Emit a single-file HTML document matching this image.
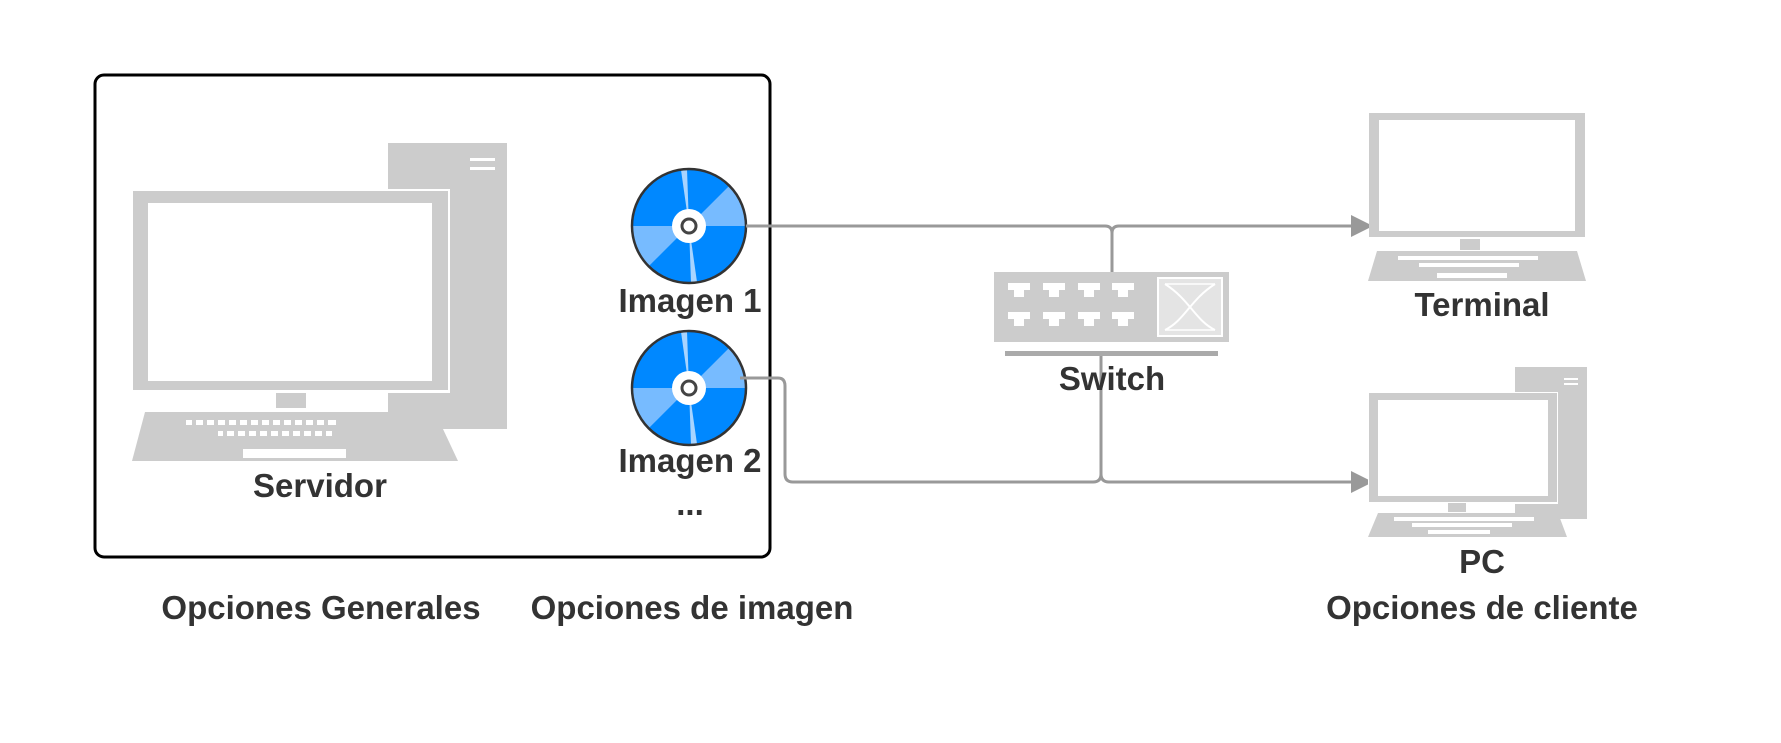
<!DOCTYPE html>
<html><head><meta charset="utf-8"><style>
html,body{margin:0;padding:0;background:#fff;}
svg{display:block;}
text{font-family:"Liberation Sans",Arial,sans-serif;font-weight:bold;fill:#333;text-anchor:middle;}
</style></head><body>
<svg width="1781" height="743" viewBox="0 0 1781 743" xmlns="http://www.w3.org/2000/svg">
<defs>
<g id="cd">
  <circle r="57" fill="#0088ff"/>
  <path d="M0 0 L57 0 A57 57 0 0 0 40.3 -40.3 Z" fill="#77bbff"/>
  <path d="M0 0 L-57 0 A57 57 0 0 0 -40.3 40.3 Z" fill="#77bbff"/>
  <path d="M0 0 L-8 -56 A57 57 0 0 1 -2 -57 Z" fill="#a8d4ff"/>
  <path d="M0 0 L8 56 A57 57 0 0 1 2 57 Z" fill="#a8d4ff"/>
  <circle r="57" fill="none" stroke="#333" stroke-width="2.5"/>
  <circle r="17" fill="#fff"/>
  <circle r="7" fill="none" stroke="#444" stroke-width="3"/>
</g>
</defs>
<rect x="95" y="75" width="675" height="482" rx="9" fill="none" stroke="#000" stroke-width="3"/>
<rect x="388" y="143" width="119" height="286" fill="#cccccc"/>
<rect x="470" y="158" width="25" height="3" fill="#fff"/>
<rect x="470" y="167" width="25" height="3" fill="#fff"/>
<rect x="131" y="189" width="319" height="204" fill="#fff"/>
<rect x="133" y="191" width="315" height="199" fill="#cccccc"/>
<rect x="148" y="203" width="284" height="178" fill="#fff"/>
<rect x="276" y="393" width="30" height="15" fill="#cccccc"/>
<polygon points="145,412 435,412 458,461 132,461" fill="#cccccc"/>
<g fill="#fff">
<rect x="186" y="420" width="150" height="5"/>
<rect x="218" y="431" width="114" height="5"/>
<rect x="243" y="449" width="103" height="9"/>
</g>
<g stroke="#cccccc" stroke-width="4">
<path d="M194 419v7M205 419v7M216 419v7M227 419v7M238 419v7M249 419v7M260 419v7M271 419v7M282 419v7M293 419v7M304 419v7M315 419v7M326 419v7"/>
<path d="M225 430v7M236 430v7M247 430v7M258 430v7M269 430v7M280 430v7M291 430v7M302 430v7M313 430v7M324 430v7"/>
</g>
<text x="320" y="497" font-size="33">Servidor</text>
<use href="#cd" x="689" y="226"/>
<use href="#cd" x="689" y="388"/>
<text x="690" y="312" font-size="33">Imagen 1</text>
<text x="690" y="472" font-size="33">Imagen 2</text>
<text x="690" y="515" font-size="33">...</text>
<g fill="none" stroke="#999" stroke-width="3">
<path d="M746 226 H1105 Q1112 226 1112 233 V272"/>
<path d="M1112 233 Q1112 226 1119 226 H1355"/>
<path d="M740 378 H778 Q785 378 785 386 V474 Q785 482 793 482 H1093 Q1101 482 1101 474 V353"/>
<path d="M1101 474 Q1101 482 1109 482 H1355"/>
</g>
<polygon points="1351,215 1373,226 1351,237" fill="#999"/>
<polygon points="1351,471 1373,482 1351,493" fill="#999"/>
<g transform="translate(-5,0)">
<rect x="999" y="272" width="235" height="70" fill="#cccccc"/>
<rect x="1163" y="278" width="64" height="58" fill="#e4e4e4" stroke="#fff" stroke-width="2"/>
<g stroke="#fff" stroke-width="2" fill="none">
<path d="M1170 284 C1195 300 1200 320 1220 330 M1220 284 C1195 300 1190 320 1170 330"/>
<path d="M1170 284 H1220 M1170 330 H1220" stroke-width="1.5"/>
</g>
<g fill="#fff">
<path d="M1013 283h22v7h-6v7h-10v-7h-6z"/><path d="M1048 283h22v7h-6v7h-10v-7h-6z"/>
<path d="M1083 283h22v7h-6v7h-10v-7h-6z"/><path d="M1117 283h22v7h-6v7h-10v-7h-6z"/>
<path d="M1013 312h22v7h-6v7h-10v-7h-6z"/><path d="M1048 312h22v7h-6v7h-10v-7h-6z"/>
<path d="M1083 312h22v7h-6v7h-10v-7h-6z"/><path d="M1117 312h22v7h-6v7h-10v-7h-6z"/>
</g>
<rect x="1010" y="351" width="213" height="5" fill="#aaa"/>
</g>
<text x="1112" y="390" font-size="33">Switch</text>
<g transform="translate(-8,0)">
<rect x="1377" y="113" width="216" height="124" fill="#cccccc"/>
<rect x="1387" y="120" width="196" height="111" fill="#fff"/>
<rect x="1468" y="239" width="20" height="11" fill="#cccccc"/>
<polygon points="1385,251 1585,251 1594,281 1376,281" fill="#cccccc"/>
<rect x="1406" y="256" width="140" height="4" fill="#fff"/>
<rect x="1427" y="263" width="100" height="4" fill="#fff"/>
<rect x="1445" y="273" width="70" height="5" fill="#fff"/>
<rect x="1523" y="367" width="72" height="152" fill="#cccccc"/>
<rect x="1572" y="378" width="14" height="2" fill="#fff"/>
<rect x="1572" y="383" width="14" height="2" fill="#fff"/>
<rect x="1376" y="392" width="190" height="112" fill="#fff"/>
<rect x="1377" y="393" width="188" height="109" fill="#cccccc"/>
<rect x="1386" y="400" width="170" height="96" fill="#fff"/>
<rect x="1456" y="503" width="18" height="9" fill="#cccccc"/>
<polygon points="1386,513 1566,513 1575,537 1376,537" fill="#cccccc"/>
<rect x="1402" y="517" width="140" height="4" fill="#fff"/>
<rect x="1420" y="523" width="100" height="4" fill="#fff"/>
<rect x="1436" y="530" width="62" height="4" fill="#fff"/>
</g>
<text x="1482" y="316" font-size="33">Terminal</text>
<text x="1482" y="573" font-size="33">PC</text>
<text x="321" y="619" font-size="33">Opciones Generales</text>
<text x="692" y="619" font-size="33">Opciones de imagen</text>
<text x="1482" y="619" font-size="33">Opciones de cliente</text>
</svg>
</body></html>
